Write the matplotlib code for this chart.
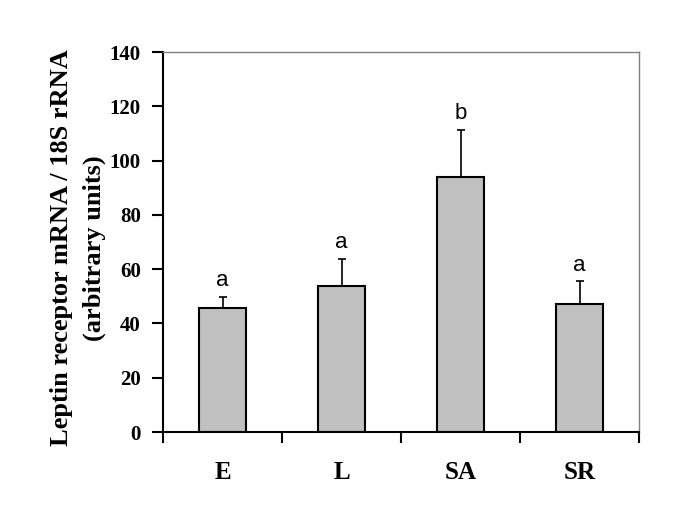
import matplotlib
matplotlib.use("Agg")
import matplotlib.pyplot as plt
import numpy as np

categories = ["E", "L", "SA", "SR"]
values = [45.7, 53.9, 94.0, 47.0]
errors = [4.1, 10.0, 17.3, 8.5]
letters = ["a", "a", "b", "a"]

fig = plt.figure(figsize=(6.85, 5.13), dpi=100)
ax = fig.add_axes([163/685, 1-432/513, (639-163)/685, (432-52)/513])

x = np.arange(len(categories))
ax.bar(x, values, width=0.4, color="#c0c0c0", edgecolor="black", linewidth=1.5, zorder=2)
ax.errorbar(x, values, yerr=[np.zeros(len(values)), errors], fmt="none",
            ecolor="black", elinewidth=1.2, capsize=3, capthick=1.2, zorder=1)
for xi, v, e, l in zip(x, values, errors, letters):
    ax.annotate(l, (xi, v + e), xytext=(0, 4), textcoords="offset points",
                ha="center", va="bottom", fontsize=16, family="Liberation Sans")

ax.set_xlim(-0.5, 3.5)
ax.set_ylim(0, 140)
ax.set_yticks(np.arange(0, 141, 20))
ax.set_xticks(x)
ax.set_xticklabels(categories, fontsize=18, fontweight="bold", family="Liberation Serif")
ax.set_xticks(np.arange(-0.5, 3.6, 1), minor=True)
ax.tick_params(axis="x", which="major", length=0, pad=21)
ax.tick_params(axis="x", which="minor", length=8, width=1.5, direction="out")
ax.tick_params(axis="y", length=8, width=1.5, direction="out", pad=8)
for lab in ax.get_yticklabels():
    lab.set_fontsize(15)
    lab.set_fontweight("bold")
    lab.set_family("Liberation Serif")

for s in ["left", "bottom"]:
    ax.spines[s].set_linewidth(1.5)
    ax.spines[s].set_color("black")
for s in ["top", "right"]:
    ax.spines[s].set_linewidth(1.0)
    ax.spines[s].set_color("#808080")

ax.set_ylabel("Leptin receptor mRNA / 18S rRNA\n(arbitrary units)", fontsize=19,
              fontweight="bold", family="Liberation Serif", linespacing=1.5,
              va="center", ha="center")
ax.yaxis.set_label_coords((78 - 163) / 476, (432 - 248) / 380)

fig.savefig("out.png", dpi=100)
